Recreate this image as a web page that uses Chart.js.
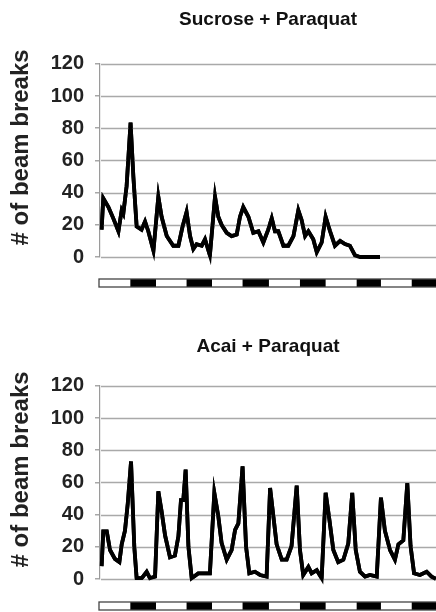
<!DOCTYPE html>
<html>
<head>
<meta charset="utf-8">
<title>Beam breaks</title>
<script src="https://cdn.jsdelivr.net/npm/chart.js@4.4.0/dist/chart.umd.min.js"></script>
<style>
    html, body { margin: 0; padding: 0; background: #fff; }
    .chart-box { position: absolute; left: 0; width: 436px; }
    #sucroseBox { top: 0; height: 300px; }
    #acaiBox { top: 306px; height: 306px; }
</style>
</head>
<body>
<div class="chart-box" id="sucroseBox"><canvas id="sucroseChart"></canvas></div>
<div class="chart-box" id="acaiBox"><canvas id="acaiChart"></canvas></div>
<script>
/* ============================================
   Activity data (hours from start, beam breaks)
============================================ */

const sucroseHours = [0.7, 1.4, 3.6, 5.7, 7.9, 9.3, 10, 11.4, 13.1, 14.3, 15.7, 17.8, 19.3, 20.7, 22.9,
    25, 26.4, 28.6, 31.4, 33.6, 35.4, 37.1, 38.6, 40, 41.4, 43.6, 45, 47.1,
    49.3, 50.7, 52.1, 54.3, 56.4, 58.6, 60, 61.4, 63.6, 65.7, 67.9, 70,
    72.1, 73.6, 75, 76.4, 78.6, 80.7, 82.9, 85, 86.4, 87.9, 89.3, 91.4, 92.9, 95,
    96.7, 98.6, 100.7, 102.9, 105, 107.1, 109.3, 111.4, 120];
const sucroseBreaks = [17, 36.5, 31, 24, 16, 29, 27, 44, 83.5, 50, 19, 17, 22, 16, 4,
    37.5, 25, 13, 7, 7, 19, 28, 13, 5, 8, 7, 11, 1,
    37.5, 25, 20, 15, 13, 14, 25, 31, 25, 15, 16, 9,
    17, 24, 16, 16, 7, 7, 13, 29, 23, 13, 16, 11, 3, 9,
    25, 16, 7, 10, 8, 7, 1, 0, 0];

const acaiHours = [0.7, 1.4, 2.9, 4.3, 6.4, 8.3, 9.3, 10.7, 11.9, 13.3, 14.7, 15.7, 17.9, 20, 21.4, 23.6,
    25, 26.4, 27.9, 30, 32.1, 33.6, 34.7, 35.7, 36.7, 37.9, 39.3, 42.1, 45, 47.1,
    49, 50.7, 52.1, 54.3, 56.4, 57.9, 59.3, 61.1, 62.6, 64, 66.4, 68.6, 71.4,
    72.9, 74.3, 75.7, 77.9, 80, 82.1, 84.3, 85.7, 87.1, 89.3, 90.7, 92.9, 95,
    96.7, 98.3, 100, 102.1, 104.3, 106.4, 108.1, 109.6, 111.4, 113.6, 115.7, 118.6,
    120.4, 122.1, 124.3, 126.4, 127.9, 130, 131.7, 133.1, 134.6, 137.1, 140, 142.1, 144];
const acaiBreaks = [8, 29.5, 29.5, 18, 12.5, 10.5, 21.5, 30, 47, 73, 20, 0.5, 0.5, 4.5, 0.5, 1.5,
    54.5, 42, 27, 13.5, 14.5, 26.5, 49, 49, 68, 20, 0.5, 3.5, 3.5, 3.5,
    53.5, 39, 22.5, 12, 18, 30.5, 34.5, 70, 20, 3.5, 4.5, 2.5, 1.5,
    56.5, 39, 21.5, 12, 12, 20.5, 58, 18, 2.5, 7.5, 3.5, 5.5, 0.5,
    53.5, 37, 18, 10.5, 12, 22, 53.5, 18, 4.5, 1.5, 2.5, 1.5,
    50.5, 30, 18, 12, 21.5, 24, 59.5, 20.5, 3.5, 2.5, 4.5, 1.5, 0];

const yTicks = [0, 20, 40, 60, 80, 100, 120];
const yTitle = '# of beam breaks';

// Dark phases of the light/dark cycle (hours)
const darkStart = [13, 37.1, 61.1, 85.7, 110, 133.6];
const darkEnd = [24, 48, 72.4, 96.7, 120.4, 144];

const FONT = '"Liberation Sans", Arial, sans-serif';
Chart.defaults.font.family = FONT;

/**
 * Horizontal grid lines at each y tick. Drawn last, then the
 * line element is drawn again on top so the trace stays in front.
 */
const gridLines = {
    id: 'gridLines',
    afterDraw(chart, args, opts) {
        const { ctx, scales } = chart;
        const x = scales.x;
        const y = scales.y;
        const left = x.getPixelForValue(x.min);
        const right = x.getPixelForValue(x.max);
        ctx.save();
        ctx.globalCompositeOperation = 'source-over';
        ctx.strokeStyle = opts.lineColor;
        ctx.lineWidth = opts.lineWidth;
        yTicks.forEach(v => {
            const py = Math.round(y.getPixelForValue(v)) + 0.5;
            ctx.beginPath();
            ctx.moveTo(left + 1, py);
            ctx.lineTo(right, py);
            ctx.stroke();
        });
        ctx.restore();

        // trace back on top of the grid
        const meta = chart.getDatasetMeta(0);
        if (meta && meta.dataset) {
            ctx.save();
            meta.dataset.draw(ctx, chart.chartArea);
            ctx.restore();
        }
    }
};

/**
 * Draw the light/dark bar under the plot using the x scale
 */
const lightDarkBar = {
    id: 'lightDarkBar',
    afterDraw(chart, args, opts) {
        const { ctx, chartArea, scales } = chart;
        const x = scales.x;
        const top = chartArea.bottom + opts.offset;
        const h = opts.barHeight;
        const left = x.getPixelForValue(x.min);
        const right = x.getPixelForValue(x.max);

        ctx.save();
        ctx.fillStyle = '#fff';
        ctx.fillRect(left, top, right - left + 4, h);
        ctx.fillStyle = '#000';
        darkStart.forEach((s, i) => {
            const a = x.getPixelForValue(s);
            const b = x.getPixelForValue(darkEnd[i]);
            ctx.fillRect(a, top, b - a, h);
        });
        ctx.strokeStyle = '#444';
        ctx.lineWidth = 1.3;
        ctx.strokeRect(left - 1, top, right - left + 6, h);
        ctx.restore();
    }
};

/**
 * Rotated y axis title, sitting a little above the axis middle
 */
const axisTitle = {
    id: 'axisTitle',
    afterDraw(chart, args, opts) {
        const { ctx, chartArea } = chart;
        const mid = (chartArea.top + chartArea.bottom) / 2 - opts.shift;
        ctx.save();
        ctx.translate(opts.x, mid);
        ctx.rotate(-Math.PI / 2);
        ctx.textAlign = 'center';
        ctx.textBaseline = 'middle';
        ctx.fillStyle = '#222';
        ctx.font = 'bold 24px ' + FONT;
        ctx.fillText(yTitle, 0, 0);
        ctx.restore();
    }
};

/**
 * Build one activity chart
 */
function buildChart(canvasId, title, hours, breaks, pad, barOffset) {
    const ctx = document.getElementById(canvasId);
    const points = hours.map((h, i) => ({ x: h, y: breaks[i] }));

    return new Chart(ctx, {
        type: 'line',
        data: {
            datasets: [{
                data: points,
                borderColor: '#000',
                borderWidth: 3.8,
                pointRadius: 0,
                tension: 0,
                fill: false,
            }]
        },
        options: {
            responsive: true,
            maintainAspectRatio: false,
            animation: false,
            layout: {
                padding: { left: 0, right: 0, top: 0, bottom: pad.canvasBottom }
            },
            plugins: {
                legend: { display: false },
                tooltip: { enabled: false },
                title: {
                    display: true,
                    text: title,
                    fullSize: false,
                    color: '#111',
                    font: { size: 19, weight: 'bold' },
                    padding: { top: pad.top, bottom: pad.bottom }
                },
                gridLines: { lineColor: '#a9a9a9', lineWidth: 1.6 },
                lightDarkBar: { offset: barOffset, barHeight: 8 },
                axisTitle: { x: 21, shift: 13 }
            },
            scales: {
                x: {
                    type: 'linear',
                    display: false,
                    min: 0,
                    max: 144,
                },
                y: {
                    min: 0,
                    max: 120,
                    afterBuildTicks: (scale) => {
                        scale.ticks = yTicks.map(v => ({ value: v }));
                    },
                    afterFit: (scale) => {
                        scale.width = 100;
                    },
                    ticks: {
                        color: '#222',
                        padding: 11,
                        font: { size: 20, weight: 'bold' }
                    },
                    grid: {
                        drawOnChartArea: false,
                        color: '#a8a8a8',
                        lineWidth: 1.5,
                        tickLength: 5
                    },
                    border: { color: '#9a9a9a', width: 1.2 }
                }
            }
        },
        plugins: [lightDarkBar, gridLines, axisTitle]
    });
}

document.addEventListener('DOMContentLoaded', () => {
    buildChart('sucroseChart', 'Sucrose + Paraquat', sucroseHours, sucroseBreaks,
        { top: 8, bottom: 33, canvasBottom: 43 }, 22);
    buildChart('acaiChart', 'Acai + Paraquat', acaiHours, acaiBreaks,
        { top: 29, bottom: 28, canvasBottom: 33 }, 23);
});
</script>
</body>
</html>
